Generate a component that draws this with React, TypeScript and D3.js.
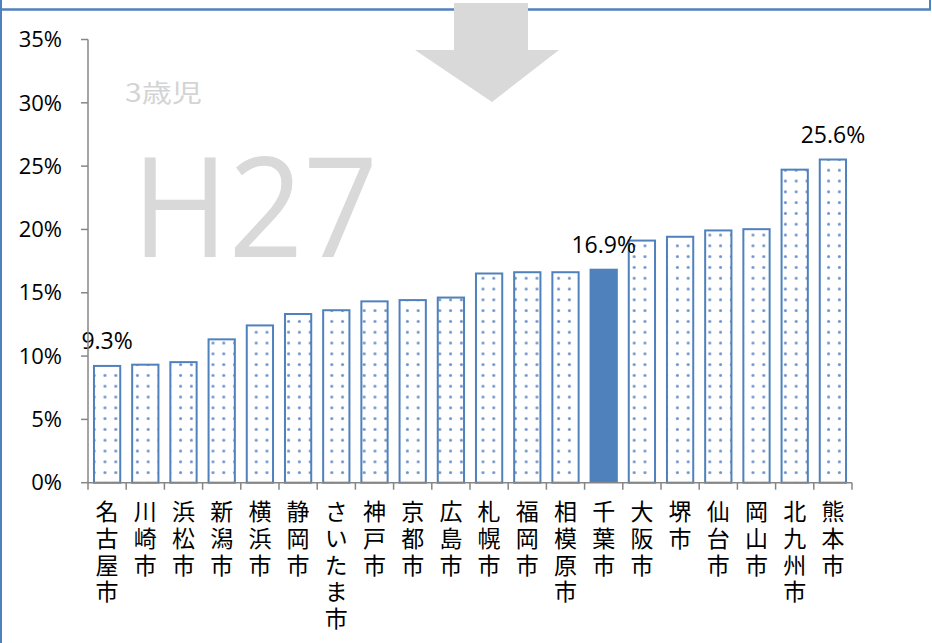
import * as d3 from "d3";
import React from "react";

const cities = [
  "名古屋市", "川崎市", "浜松市", "新潟市", "横浜市", "静岡市", "さいたま市",
  "神戸市", "京都市", "広島市", "札幌市", "福岡市", "相模原市", "千葉市",
  "大阪市", "堺市", "仙台市", "岡山市", "北九州市", "熊本市",
];
const rates = [
  9.3, 9.4, 9.6, 11.4, 12.5, 13.4, 13.7, 14.4, 14.5, 14.7,
  16.6, 16.7, 16.7, 16.9, 19.2, 19.5, 20.0, 20.1, 24.8, 25.6,
];
const yTicks = [0, 5, 10, 15, 20, 25, 30, 35];
const labelled = ["名古屋市", "千葉市", "熊本市"];
const highlight = "千葉市";

const W = 932;
const H = 643;
const blue = "#4f81bd";
const axisGrey = "#868686";
const latin = "'Open Sans', 'Liberation Sans', sans-serif";
const cjk = "'Noto Sans CJK JP', sans-serif";

const App: React.FC = () => {
  const x = d3
    .scaleBand<string>()
    .domain(cities)
    .range([88, 852])
    .paddingInner(0.26)
    .paddingOuter(0.13);
  const y = d3.scaleLinear().domain([0, 35]).range([482.7, 39.5]);
  const step = x.step();
  const bw = x.bandwidth();

  return (
    <svg
      width={W}
      height={H}
      style={{ position: "absolute", left: 0, top: 0 }}
    >
      <defs>
        <pattern
          id="dots"
          patternUnits="userSpaceOnUse"
          width={10.8}
          height={10.8}
          x={2.4}
          y={2.8}
        >
          <rect width={10.8} height={10.8} fill="#fff" />
          <circle cx={5.4} cy={5.4} r={1.5} fill="#6a92cc" />
        </pattern>
      </defs>
      <rect width={W} height={H} fill="#fff" />

      {/* frames */}
      <line x1={1} x2={1} y1={0} y2={H} stroke={blue} strokeWidth={2} />
      <line x1={0} x2={931} y1={9.5} y2={9.5} stroke={blue} strokeWidth={2.5} />
      <line x1={930} x2={930} y1={0} y2={10} stroke={blue} strokeWidth={2} />

      {/* watermark */}
      <text
        x={125}
        y={102}
        fontFamily={cjk}
        fontSize={25}
        fill="#d4d4d4"
        textLength={77}
        lengthAdjust="spacingAndGlyphs"
      >
        3歳児
      </text>
      <text
        x={132}
        y={257}
        fontFamily={latin}
        fontSize={140}
        fill="#d9d9d9"
        textLength={246}
        lengthAdjust="spacingAndGlyphs"
      >
        H27
      </text>

      {/* arrow */}
      <polygon
        points="454,3 528,3 528,50 559,50 492,102 415,50 454,50"
        fill="#d9d9d9"
      />

      {/* bars */}
      {cities.map((c, i) => {
        const x0 = x(c)!;
        const y0 = y(rates[i]);
        const h = y(0) - y0;
        return c === highlight ? (
          <rect key={c} x={x0} y={y0} width={bw} height={h} fill={blue} />
        ) : (
          <rect
            key={c}
            x={x0 + 1}
            y={y0 + 1}
            width={bw - 2}
            height={h - 1}
            fill="url(#dots)"
            stroke={blue}
            strokeWidth={2}
          />
        );
      })}

      {/* data labels */}
      {cities.map((c, i) =>
        labelled.includes(c) ? (
          <text
            key={c}
            x={x(c)! + bw / 2}
            y={y(rates[i]) - 16}
            textAnchor="middle"
            fontFamily={latin}
            fontSize={23}
            fill="#000"
          >
            {rates[i].toFixed(1)}%
          </text>
        ) : null
      )}

      {/* y axis */}
      <line x1={88} x2={88} y1={y(35)} y2={y(0)} stroke={axisGrey} strokeWidth={1.5} />
      {yTicks.map((t) => (
        <g key={t}>
          <line x1={81} x2={88} y1={y(t)} y2={y(t)} stroke={axisGrey} strokeWidth={1.5} />
          <text
            x={62}
            y={y(t)}
            dy="0.35em"
            textAnchor="end"
            fontFamily={latin}
            fontSize={22}
            fill="#000"
          >
            {t}%
          </text>
        </g>
      ))}

      {/* x axis */}
      <line x1={88} x2={852} y1={y(0)} y2={y(0)} stroke={axisGrey} strokeWidth={1.5} />
      {d3.range(cities.length + 1).map((k) => (
        <line
          key={k}
          x1={88 + k * step}
          x2={88 + k * step}
          y1={y(0)}
          y2={y(0) + 7}
          stroke={axisGrey}
          strokeWidth={1.5}
        />
      ))}
      {cities.map((c) => (
        <text
          key={c}
          x={x(c)! + bw / 2}
          y={500}
          fontFamily={cjk}
          fontSize={23}
          fill="#000"
          style={{ writingMode: "vertical-rl", letterSpacing: "3.7px" }}
        >
          {c}
        </text>
      ))}
    </svg>
  );
};

export default App;
